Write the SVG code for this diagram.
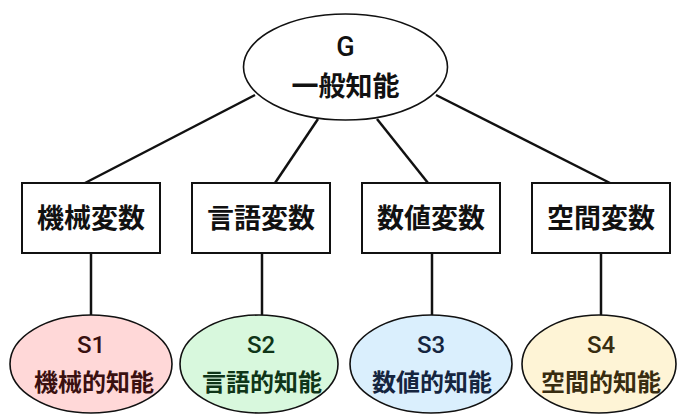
<svg xmlns="http://www.w3.org/2000/svg" width="677" height="417" viewBox="0 0 677 417">
<style>
.t{font-family:"Liberation Sans","Noto Sans CJK JP",sans-serif;font-weight:bold;text-anchor:middle;dominant-baseline:central}
.big{font-size:27px;fill:#111}
.sm{font-size:24px}
.lat{font-family:Roboto,"Liberation Sans",sans-serif;font-weight:500}
.box{fill:#fff;stroke:#111;stroke-width:2}
.el{stroke:#111;stroke-width:1.6}
.ln{stroke:#111;stroke-width:2.5;fill:none}
</style>
<rect width="677" height="417" fill="#fff"/>
<g id="connectors">
<line class="ln" x1="255" y1="95" x2="85" y2="183"/>
<line class="ln" x1="318" y1="119" x2="275" y2="183"/>
<line class="ln" x1="377" y1="119" x2="428" y2="183"/>
<line class="ln" x1="436" y1="95" x2="610" y2="183"/>
<line class="ln" x1="91" y1="253" x2="91" y2="315"/>
<line class="ln" x1="262" y1="253" x2="262" y2="315"/>
<line class="ln" x1="432" y1="253" x2="432" y2="315"/>
<line class="ln" x1="601" y1="253" x2="601" y2="315"/>
</g>
<g id="G">
<ellipse class="el" cx="345.5" cy="67" rx="102" ry="53" fill="#fff"/>
<text class="t big lat" x="345.5" y="47" font-size="28">G</text>
<text class="t big" x="345.5" y="87">一般知能</text>
</g>
<g id="v1"><rect class="box" x="22" y="183" width="138" height="70"/><text class="t big" x="91" y="219">機械変数</text></g>
<g id="v2"><rect class="box" x="192" y="183" width="138" height="70"/><text class="t big" x="261" y="219">言語変数</text></g>
<g id="v3"><rect class="box" x="362" y="183" width="138" height="70"/><text class="t big" x="431" y="219">数値変数</text></g>
<g id="v4"><rect class="box" x="532" y="183" width="138" height="70"/><text class="t big" x="601" y="219">空間変数</text></g>
<g id="s1"><ellipse class="el" cx="91" cy="364" rx="81" ry="49" fill="#ffd8d8"/><text class="t sm lat" x="91" y="345" fill="#3a1010">S1</text><text class="t sm" x="94" y="382" fill="#3a1010">機械的知能</text></g>
<g id="s2"><ellipse class="el" cx="259" cy="364" rx="79" ry="49" fill="#d8f8dd"/><text class="t sm lat" x="261" y="345" fill="#0f3518">S2</text><text class="t sm" x="262" y="382" fill="#0f3518">言語的知能</text></g>
<g id="s3"><ellipse class="el" cx="431" cy="364" rx="81" ry="49" fill="#daeffd"/><text class="t sm lat" x="431" y="345" fill="#15253f">S3</text><text class="t sm" x="432" y="382" fill="#15253f">数値的知能</text></g>
<g id="s4"><ellipse class="el" cx="599" cy="364" rx="77" ry="49" fill="#fef4d6"/><text class="t sm lat" x="601" y="345" fill="#382c10">S4</text><text class="t sm" x="601" y="382" fill="#382c10">空間的知能</text></g>
</svg>
